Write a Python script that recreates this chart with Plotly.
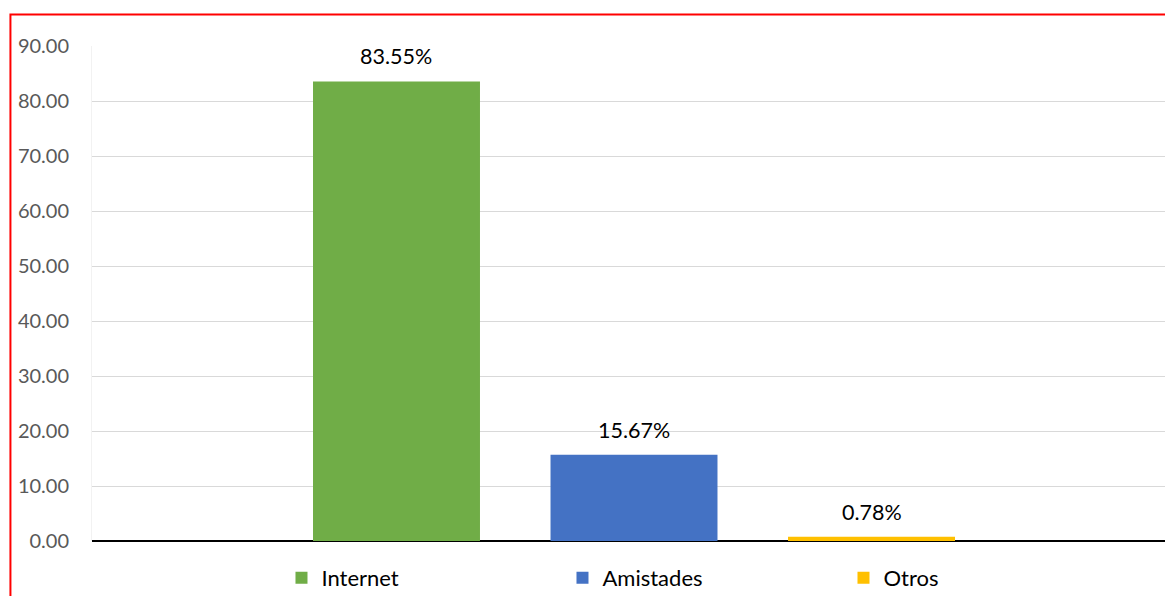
"""Bar chart: fuente de información (Internet / Amistades / Otros)."""

import plotly.graph_objects as go

categories = ["Internet", "Amistades", "Otros"]
values = [83.55, 15.67, 0.78]
labels = ["83.55%", "15.67%", "0.78%"]
colors = ["#70AD47", "#4472C4", "#FFC000"]

y_ticks = [0, 10, 20, 30, 40, 50, 60, 70, 80, 90]

fig = go.Figure()

for cat, val, col in zip(categories, values, colors):
    fig.add_trace(go.Bar(
        x=[cat],
        y=[val],
        name=cat,
        marker=dict(color=col, line=dict(width=0)),
        width=0.703,
        hoverinfo="y",
    ))

# data labels above each bar
for cat, val, lab in zip(categories, values, labels):
    fig.add_annotation(
        x=cat, y=val, text=lab, showarrow=False,
        yanchor="middle", yshift=25,
        font=dict(size=21.5, color="#000000", family="Lato"),
    )

# red frame around the chart
fig.add_shape(
    type="rect", xref="paper", yref="paper",
    x0=-0.0749, x1=1.03, y0=-0.3, y1=1.0636,
    line=dict(color="#FF0000", width=2),
)

fig.update_layout(
    width=1173,
    height=596,
    barmode="overlay",
    plot_bgcolor="white",
    paper_bgcolor="white",
    margin=dict(l=84, r=0, t=38, b=63, autoexpand=False),
    font=dict(family="Lato", size=20, color="#595959"),
    showlegend=True,
    legend=dict(
        orientation="h",
        x=0.174, xanchor="left",
        y=-0.0747, yanchor="middle",
        entrywidth=236, entrywidthmode="pixels",
        bgcolor="rgba(0,0,0,0)",
        font=dict(size=22, color="#000000"),
        itemclick=False,
    ),
    xaxis=dict(
        categoryorder="array",
        categoryarray=categories,
        range=[-1.282, 3.303],
        showticklabels=False,
        showgrid=False,
        zeroline=False,
    ),
    yaxis=dict(
        range=[0, 90],
        tickvals=y_ticks,
        tickformat=".2f",
        showgrid=True,
        gridcolor="#D9D9D9",
        gridwidth=1,
        zeroline=True,
        zerolinecolor="#000000",
        zerolinewidth=2,
        showline=True,
        linecolor="#F2F2F2",
        linewidth=1,
        ticklabelstandoff=18,
        tickfont=dict(size=20, color="#595959"),
    ),
)

fig.write_html("out.html")
